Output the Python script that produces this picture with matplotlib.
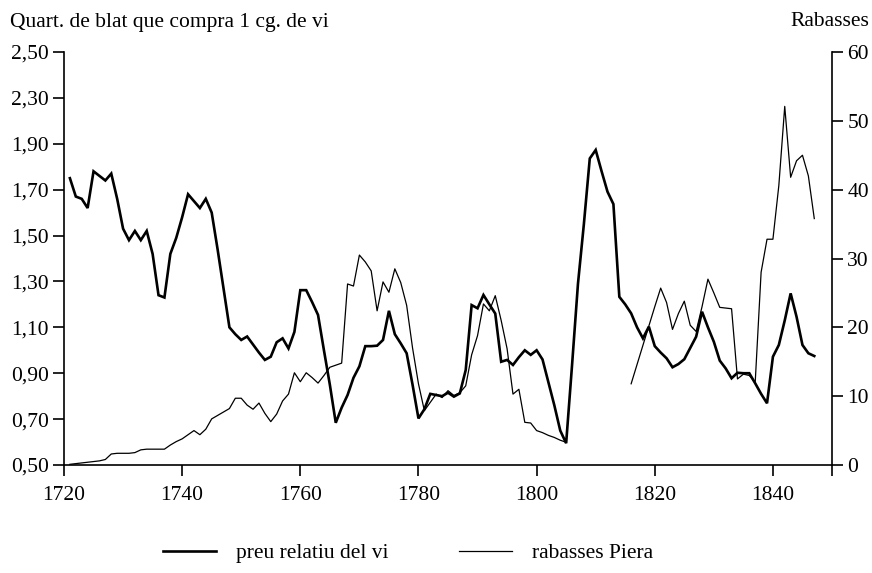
import numpy as np
import matplotlib
matplotlib.use("Agg")
import matplotlib.pyplot as plt

plt.rcParams['font.family'] = ['Liberation Serif', 'DejaVu Serif']

# preu relatiu del vi (left axis), 1721-1847
preu_years = list(range(1721, 1848))
preu = [1.75, 1.67, 1.66, 1.62, 1.78, 1.76, 1.74, 1.77, 1.66, 1.53,
        1.48, 1.52, 1.48, 1.52, 1.42, 1.24, 1.23, 1.42, 1.49, 1.58,
        1.68, 1.65, 1.62, 1.66, 1.60, 1.44, 1.27, 1.10, 1.07, 1.045,
        1.06, 1.025, 0.99, 0.958, 0.972, 1.035, 1.052, 1.008, 1.08, 1.262,
        1.262, 1.21, 1.154, 1.00, 0.85, 0.684, 0.75, 0.805, 0.88, 0.93,
        1.018, 1.018, 1.02, 1.045, 1.172, 1.07, 1.03, 0.987, 0.85, 0.703,
        0.743, 0.81, 0.805, 0.80, 0.815, 0.798, 0.812, 0.914, 1.197, 1.183,
        1.241, 1.20, 1.16, 0.95, 0.958, 0.936, 0.97, 1.00, 0.98, 1.00,
        0.96, 0.86, 0.76, 0.65, 0.595, 0.936, 1.29, 1.55, 1.836, 1.873,
        1.78, 1.691, 1.637, 1.233, 1.20, 1.161, 1.10, 1.052, 1.103, 1.018,
        0.99, 0.965, 0.926, 0.94, 0.961, 1.01, 1.059, 1.168, 1.10, 1.037,
        0.955, 0.921, 0.878, 0.902, 0.90, 0.90, 0.856, 0.81, 0.769, 0.972,
        1.023, 1.13, 1.248, 1.146, 1.023, 0.987, 0.975]

# rabasses Piera (right axis), 1721-1805 and 1816-1847
rab_years1 = list(range(1721, 1806))
rab1 = [0.1, 0.2, 0.3, 0.4, 0.5, 0.6, 0.8, 1.6, 1.7, 1.7,
        1.7, 1.8, 2.2, 2.3, 2.3, 2.3, 2.3, 2.9, 3.4, 3.8,
        4.4, 5.0, 4.4, 5.2, 6.7, 7.2, 7.7, 8.2, 9.7, 9.7,
        8.7, 8.1, 9.0, 7.5, 6.3, 7.4, 9.3, 10.3, 13.4, 12.1,
        13.4, 12.7, 11.9, 13.0, 14.2, 14.5, 14.8, 26.3, 26.0, 30.5,
        29.5, 28.2, 22.4, 26.6, 25.1, 28.5, 26.5, 23.2, 17.0, 11.8,
        7.9, 9.1, 10.3, 9.8, 10.8, 10.1, 10.5, 11.5, 16.0, 18.8,
        23.4, 22.4, 24.6, 21.0, 16.9, 10.3, 11.0, 6.2, 6.1, 5.0,
        4.7, 4.3, 4.0, 3.6, 3.3]
rab_years2 = list(range(1816, 1848))
rab2 = [11.8, 14.6, 17.4, 20.2, 23.0, 25.7, 23.6, 19.7, 22.0, 23.8,
        20.3, 19.4, 23.0, 27.0, 25.0, 22.9, 22.8, 22.7, 12.5, 13.2,
        13.0, 12.0, 28.0, 32.8, 32.8, 40.6, 52.1, 41.8, 44.2, 45.0,
        42.0, 35.8]

left_ticks = [0.5, 0.7, 0.9, 1.1, 1.3, 1.5, 1.7, 1.9, 2.1, 2.3]
left_labels = ['0,50', '0,70', '0,90', '1,10', '1,30', '1,50', '1,70', '1,90', '2,30', '2,50']
right_ticks = [0, 10, 20, 30, 40, 50, 60]
x_ticks = [1720, 1740, 1760, 1780, 1800, 1820, 1840]

fs = 15.5

fig = plt.figure(figsize=(8.72, 5.73), dpi=100)
ax = fig.add_axes([64/872, 1-465/573, (832-64)/872, (465-52)/573])
ax2 = ax.twinx()

ax.plot(preu_years, preu, color='black', lw=1.9, solid_joinstyle='miter')
ax2.plot(rab_years1, rab1, color='black', lw=0.9)
ax2.plot(rab_years2, rab2, color='black', lw=0.9)

ax.set_xlim(1720, 1850)
ax.set_ylim(0.5, 2.3)
ax2.set_ylim(0, 60)
ax.set_xticks(x_ticks)
ax.set_xticklabels([str(t) for t in x_ticks])
ax.set_xticks([1850], minor=True)
ax.set_yticks(left_ticks)
ax.set_yticklabels(left_labels)
ax2.set_yticks(right_ticks)
ax2.set_yticklabels([str(t) for t in right_ticks])

for a in (ax, ax2):
    a.spines['top'].set_visible(False)
    for s in a.spines.values():
        s.set_linewidth(1.2)
ax.spines['right'].set_visible(False)
ax2.spines['left'].set_visible(False)
ax2.spines['bottom'].set_visible(False)

ax.tick_params(axis='both', which='both', direction='out', length=8, width=1.2,
               labelsize=fs, pad=3)
ax.tick_params(axis='x', which='both', length=8, width=1.2, pad=7)
ax2.tick_params(axis='y', direction='out', length=8, width=1.2, labelsize=fs, pad=3)

fig.text(10/872, 1-22/573, 'Quart. de blat que compra 1 cg. de vi', fontsize=fs,
         ha='left', va='center')
fig.text(869/872, 1-22/573, 'Rabasses', fontsize=fs, ha='right', va='center')

h1, = ax.plot([], [], color='black', lw=1.9)
h2, = ax.plot([], [], color='black', lw=0.9)
fig.legend([h1, h2], ['preu relatiu del vi', 'rabasses Piera'], loc='center',
           bbox_to_anchor=(408/872, 1-553/573), ncol=2, frameon=False,
           fontsize=fs, handlelength=2.45, handletextpad=0.93, columnspacing=3.3)

fig.savefig('out.png', dpi=100)
